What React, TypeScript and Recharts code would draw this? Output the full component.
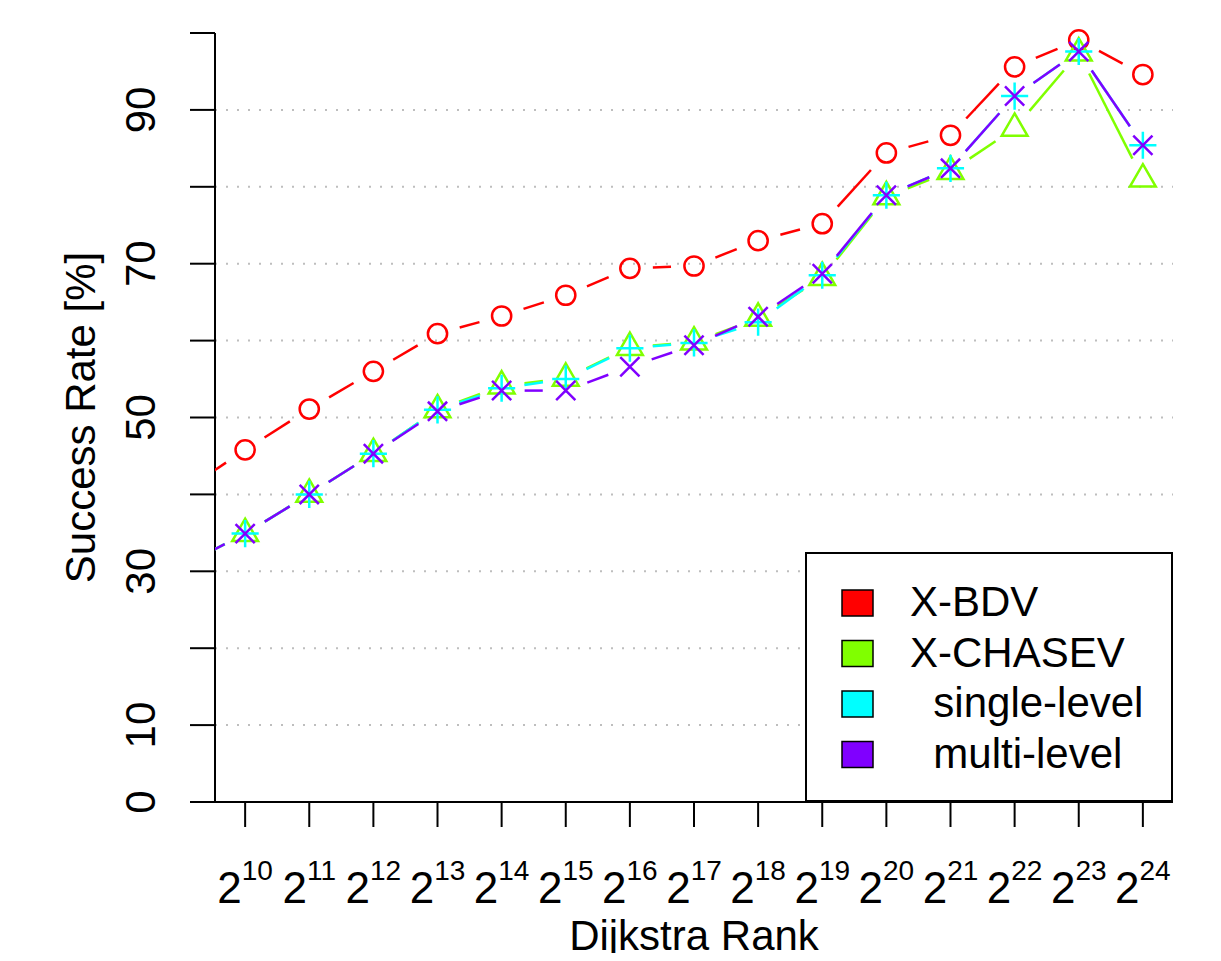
import { LineChart, Line, XAxis, YAxis, CartesianGrid, Legend } from 'recharts';

// Dijkstra rank exponents (2^9 lies just outside the plotted range, the lines run in from it)
const rankExponents = [9, 10, 11, 12, 13, 14, 15, 16, 17, 18, 19, 20, 21, 22, 23, 24];

const xBdv = [40.2, 45.8, 51.1, 56.0, 60.9, 63.2, 65.9, 69.4, 69.7, 73.0, 75.2, 84.4, 86.7, 95.6, 99.1, 94.6];
const xChasev = [30.6, 34.9, 40.0, 45.3, 51.0, 54.1, 55.1, 59.1, 59.8, 62.9, 68.2, 78.7, 82.0, 87.6, 97.4, 81.0];
const singleLevel = [30.6, 34.9, 40.0, 45.3, 51.0, 53.8, 55.0, 59.0, 59.7, 62.4, 68.5, 78.9, 82.4, 91.8, 97.6, 85.4];
const multiLevel = [30.6, 34.9, 40.0, 45.3, 50.8, 53.5, 53.5, 56.6, 59.4, 63.1, 68.7, 78.9, 82.4, 91.8, 97.6, 85.4];

const seriesKeys = ['bdv', 'chasev', 'single', 'multi'];
const seriesNames = ['X-BDV', 'X-CHASEV', 'single-level', 'multi-level'];
const legendLabels = ['X-BDV', 'X-CHASEV', '  single-level', '  multi-level'];
const seriesColors = ['#FF0000', '#80FF00', '#00FFFF', '#8000FF'];
const seriesMarkers = ['circle', 'triangle', 'plus', 'cross'];

const xTicks = [10, 11, 12, 13, 14, 15, 16, 17, 18, 19, 20, 21, 22, 23, 24];
const xDomain = [9.53, 24.47];
const yTicks = [0, 10, 20, 30, 40, 50, 60, 70, 80, 90, 100];
const yLabelledTicks = [0, 10, 30, 50, 70, 90];

const data = rankExponents.map((e, i) => ({
  rank: e,
  bdv: xBdv[i],
  chasev: xChasev[i],
  single: singleLevel[i],
  multi: multiLevel[i],
}));

const FONT = '"Liberation Sans", Arial, Helvetica, sans-serif';
const LW = 2.5;
const GAP = 23; // R type="b": lines stop short of each point
const RAD = 9.6;

// remembers the previous point of each series so the dot can draw the segment leading into it
const trail: { x: number; y: number }[][] = [[], [], [], []];

function marker(kind: string, cx: number, cy: number, color: string) {
  if (kind === 'circle') {
    return <circle cx={cx} cy={cy} r={RAD} fill="none" stroke={color} strokeWidth={LW} />;
  }
  if (kind === 'triangle') {
    const r = 1.555 * RAD;
    const pts = `${cx},${cy - r} ${cx + r * 0.866},${cy + r / 2} ${cx - r * 0.866},${cy + r / 2}`;
    return <polygon points={pts} fill="none" stroke={color} strokeWidth={LW} />;
  }
  if (kind === 'plus') {
    const h = 1.414 * RAD;
    return (
      <path d={`M${cx - h},${cy}H${cx + h}M${cx},${cy - h}V${cy + h}`} stroke={color} strokeWidth={LW} />
    );
  }
  const h = RAD;
  return (
    <path
      d={`M${cx - h},${cy - h}L${cx + h},${cy + h}M${cx - h},${cy + h}L${cx + h},${cy - h}`}
      stroke={color}
      strokeWidth={LW}
    />
  );
}

const makeDot = (s: number) => (props: any) => {
  const { cx, cy, index, points } = props;
  const color = seriesColors[s];
  let prev: { x: number; y: number } | undefined;
  if (index > 0) {
    prev = points && points[index - 1] ? { x: points[index - 1].x, y: points[index - 1].y } : trail[s][index - 1];
  }
  trail[s][index] = { x: cx, y: cy };
  let seg = null;
  if (prev) {
    const dx = cx - prev.x;
    const dy = cy - prev.y;
    const d = Math.hypot(dx, dy);
    if (d > 2 * GAP) {
      const ux = dx / d;
      const uy = dy / d;
      seg = (
        <line
          x1={prev.x + ux * GAP}
          y1={prev.y + uy * GAP}
          x2={cx - ux * GAP}
          y2={cy - uy * GAP}
          stroke={color}
          strokeWidth={LW}
        />
      );
    }
  }
  return (
    <g key={`dot-${s}-${index}`}>
      {seg}
      {marker(seriesMarkers[s], cx, cy, color)}
    </g>
  );
};

const RankTick = (props: any) => {
  const { x, y, payload } = props;
  return (
    <text x={x} y={y + 74} textAnchor="middle" fontFamily={FONT} fontSize={44} fill="#000">
      2
      <tspan dy={-23} fontSize={28}>
        {payload.value}
      </tspan>
    </text>
  );
};

const RateTick = (props: any) => {
  const { x, y, payload } = props;
  if (!yLabelledTicks.includes(payload.value)) return <g />;
  const tx = x - 33;
  return (
    <text
      x={tx}
      y={y}
      transform={`rotate(-90, ${tx}, ${y})`}
      textAnchor="middle"
      fontFamily={FONT}
      fontSize={42}
      fill="#000"
    >
      {payload.value}
    </text>
  );
};

const renderYLabel = (props: any) => {
  const vb = props.viewBox;
  const x = vb.x + 87;
  const y = vb.y + vb.height / 2;
  return (
    <text x={x} y={y} transform={`rotate(-90, ${x}, ${y})`} textAnchor="middle" fontFamily={FONT} fontSize={42} fill="#000">
      Success Rate [%]
    </text>
  );
};

const renderXLabel = (props: any) => {
  const vb = props.viewBox;
  return (
    <text x={vb.x + vb.width / 2} y={vb.y + 148} textAnchor="middle" fontFamily={FONT} fontSize={42} fill="#000">
      Dijkstra Rank
    </text>
  );
};

const LegendBox = () => (
  <svg width={368} height={250} style={{ display: 'block' }}>
    <rect x={1} y={1} width={366} height={248} fill="#fff" stroke="#000" strokeWidth={2} />
    {legendLabels.map((label, i) => (
      <g key={seriesNames[i]}>
        <rect x={37} y={38 + i * 50.5} width={31} height={26} fill={seriesColors[i]} stroke="#000" strokeWidth={1.5} />
        <text
          x={105}
          y={64 + i * 50.5}
          fontFamily={FONT}
          fontSize={42}
          fill="#000"
          xmlSpace="preserve"
          style={{ whiteSpace: 'pre' }}
        >
          {label}
        </text>
      </g>
    ))}
  </svg>
);

export default function App() {
  const border = { stroke: '#000', strokeWidth: 2 };
  return (
    <div style={{ width: 1205, height: 953, marginBottom: -8 }}>
      <LineChart width={1205} height={953} data={data} margin={{ top: 25, right: 40, bottom: 0, left: 0 }}>
        <CartesianGrid
          vertical={false}
          horizontalValues={yTicks.filter((v) => v > 0 && v < 100)}
          stroke="#BEBEBE"
          strokeWidth={2}
          strokeDasharray="2 9"
        />
        <XAxis
          dataKey="rank"
          type="number"
          domain={xDomain}
          allowDataOverflow
          ticks={xTicks}
          interval={0}
          height={159}
          tickSize={25}
          tickLine={border}
          axisLine={border}
          tick={<RankTick />}
          label={renderXLabel}
        />
        <XAxis
          xAxisId="top"
          orientation="top"
          type="number"
          domain={xDomain}
          allowDataOverflow
          height={0}
          tick={false}
          tickLine={false}
          axisLine={border}
        />
        <YAxis
          domain={[0, 100]}
          ticks={yTicks}
          interval={0}
          width={207}
          tickSize={25}
          tickLine={border}
          axisLine={border}
          tick={<RateTick />}
          label={renderYLabel}
        />
        <YAxis
          yAxisId="right"
          orientation="right"
          domain={[0, 100]}
          width={0}
          tick={false}
          tickLine={false}
          axisLine={border}
        />
        {seriesKeys.map((key, i) => (
          <Line
            key={key}
            dataKey={key}
            name={seriesNames[i]}
            stroke="none"
            isAnimationActive={false}
            activeDot={false}
            dot={makeDot(i)}
          />
        ))}
        <Legend
          layout="vertical"
          align="center"
          verticalAlign="middle"
          wrapperStyle={{ left: 797, top: 544, width: 368, height: 250 }}
          content={() => <LegendBox />}
        />
      </LineChart>
    </div>
  );
}
